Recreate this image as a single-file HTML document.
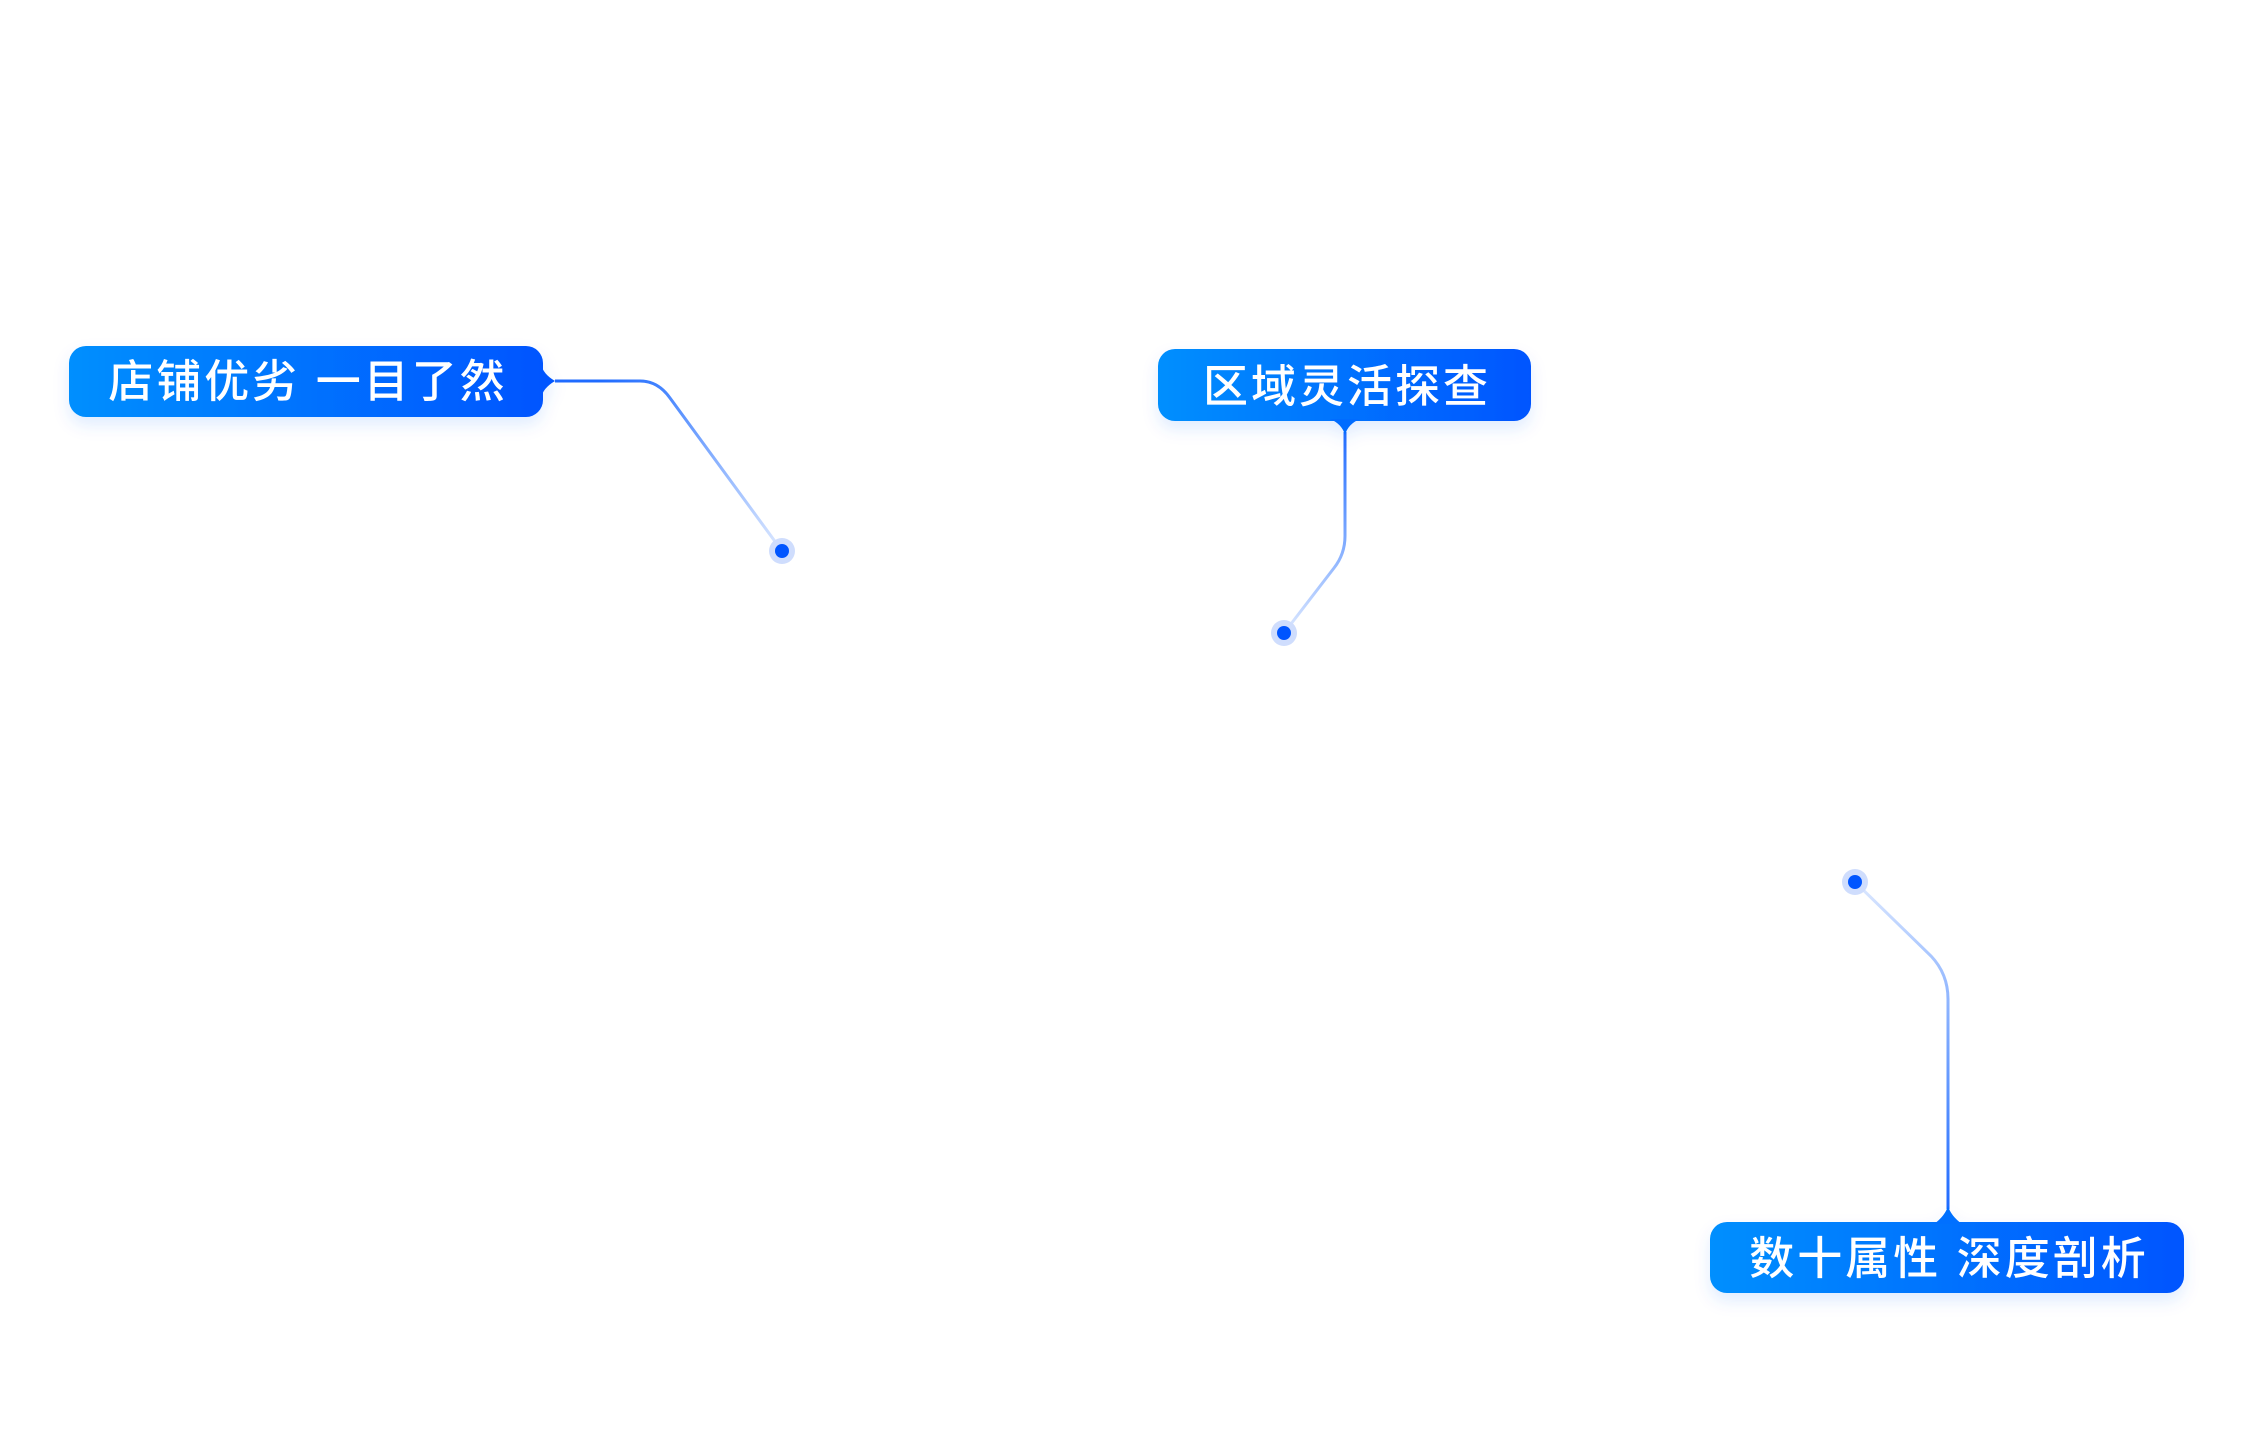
<!DOCTYPE html>
<html><head><meta charset="utf-8"><style>
html,body{margin:0;padding:0;background:#fff;width:2250px;height:1440px;overflow:hidden}
svg{display:block}
text{font-family:"Liberation Sans","Noto Sans CJK SC",sans-serif;fill:#fff;font-size:45px;letter-spacing:3px;font-weight:500}
</style></head><body>
<svg width="2250" height="1440" viewBox="0 0 2250 1440" xmlns="http://www.w3.org/2000/svg">
<defs>
<linearGradient id="bg" x1="0" y1="0" x2="1" y2="0">
<stop offset="0" stop-color="#008ffe"/><stop offset="1" stop-color="#0055ff"/>
</linearGradient>
<linearGradient id="l1" gradientUnits="userSpaceOnUse" x1="600" y1="380" x2="782" y2="551">
<stop offset="0" stop-color="#1f6bff"/><stop offset="1" stop-color="#1f6bff" stop-opacity="0.15"/>
</linearGradient>
<linearGradient id="l2" gradientUnits="userSpaceOnUse" x1="1345" y1="430" x2="1284" y2="633">
<stop offset="0" stop-color="#1f6bff"/><stop offset="1" stop-color="#1f6bff" stop-opacity="0.15"/>
</linearGradient>
<linearGradient id="l3" gradientUnits="userSpaceOnUse" x1="1948" y1="1209" x2="1855" y2="882">
<stop offset="0" stop-color="#1f6bff"/><stop offset="1" stop-color="#1f6bff" stop-opacity="0.15"/>
</linearGradient>
<filter id="sh" x="-10%" y="-20%" width="120%" height="160%"><feDropShadow dx="0" dy="8" stdDeviation="8" flood-color="#0060ff" flood-opacity="0.12"/></filter>
</defs>

<path d="M555 381 H640 Q658 381 670 398 L782 551" fill="none" stroke="url(#l1)" stroke-width="3"/>
<path d="M1345 432 V536 Q1345 554 1334 568 L1284 633" fill="none" stroke="url(#l2)" stroke-width="3"/>
<path d="M1948 1209 V999 Q1948 974 1931 956 L1855 882" fill="none" stroke="url(#l3)" stroke-width="3"/>

<g filter="url(#sh)">
<rect x="69" y="346" width="474" height="71" rx="17" fill="url(#bg)"/>
<path d="M541 364 Q543 374 555 381 Q543 388 541 398 Z" fill="#0055ff"/>
</g>
<text x="308" y="397" text-anchor="middle">店铺优劣 一目了然</text>

<g filter="url(#sh)">
<rect x="1158" y="349" width="373" height="72" rx="17" fill="url(#bg)"/>
<path d="M1330 419 Q1342 424 1345 435 Q1348 424 1360 419 Z" fill="#006cff"/>
</g>
<text x="1347" y="402" text-anchor="middle">区域灵活探查</text>

<g filter="url(#sh)">
<rect x="1710" y="1222" width="474" height="71" rx="17" fill="url(#bg)"/>
<path d="M1934 1224 Q1945 1216 1948 1206 Q1951 1216 1962 1224 Z" fill="#0070ff"/>
</g>
<text x="1949" y="1274" text-anchor="middle">数十属性 深度剖析</text>

<circle cx="782" cy="551" r="13" fill="#cfddfd"/><circle cx="782" cy="551" r="7" fill="#0055ff"/>
<circle cx="1284" cy="633" r="13" fill="#cfddfd"/><circle cx="1284" cy="633" r="7" fill="#0055ff"/>
<circle cx="1855" cy="882" r="13" fill="#cfddfd"/><circle cx="1855" cy="882" r="7" fill="#0055ff"/>
</svg>
</body></html>
